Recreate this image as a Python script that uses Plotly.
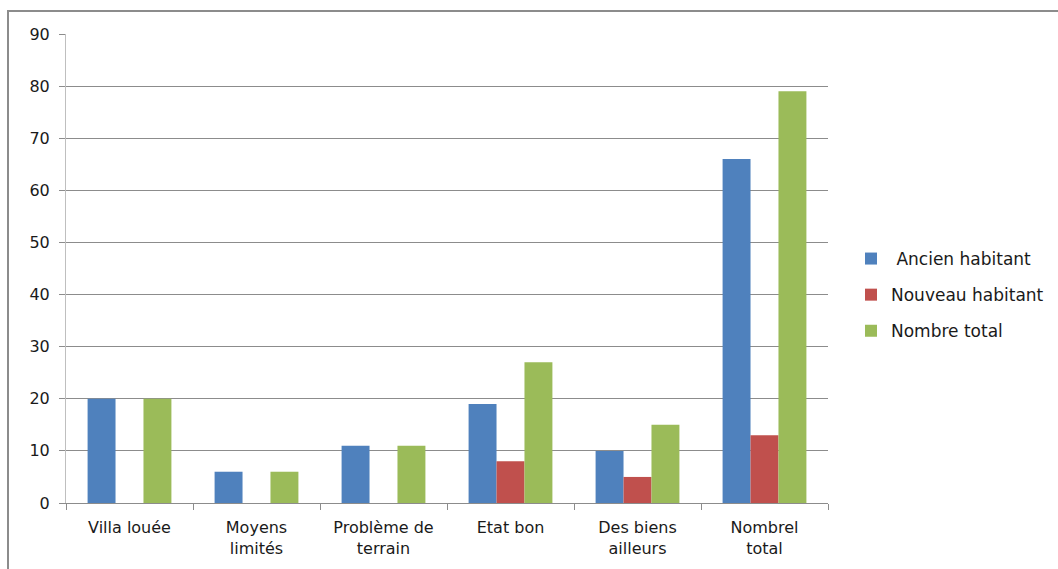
import plotly.graph_objects as go

categories = ["Villa louée", "Moyens<br>limités", "Problème de<br>terrain",
              "Etat bon", "Des biens<br>ailleurs", "Nombrel<br>total"]
ancien = [20, 6, 11, 19, 10, 66]
nouveau = [0, 0, 0, 8, 5, 13]
total = [20, 6, 11, 27, 15, 79]

series = [
    (" Ancien habitant", ancien, "#4F81BD"),
    ("Nouveau habitant", nouveau, "#C0504D"),
    ("Nombre total", total, "#9BBB59"),
]

W, H = 1058, 569
L, R, T, B = 66, 230, 34, 66
pw, ph = W - L - R, H - T - B

fig = go.Figure()
for i, (name, vals, col) in enumerate(series):
    fig.add_trace(go.Bar(
        x=categories, y=vals, name=name, marker_color=col,
        marker_line_width=0, legendgroup=str(i),
    ))

font = dict(family="DejaVu Sans", size=16, color="#1a1a1a")

fig.update_layout(
    width=W, height=H,
    margin=dict(l=L, r=R, t=T, b=B, autoexpand=False),
    paper_bgcolor="white", plot_bgcolor="white",
    barmode="group", bargap=0.34, bargroupgap=0,
    font=font,
    showlegend=True,
    legend=dict(
        x=(851 - L) / pw, y=(503 - 241) / ph, xanchor="left", yanchor="top",
        font=dict(family="DejaVu Sans", size=17, color="#1a1a1a"),
        tracegroupgap=11, itemwidth=30,
    ),
    xaxis=dict(
        type="category", showgrid=False, showline=True, linecolor="#8c8c8c",
        linewidth=1, ticks="outside", tickson="boundaries", ticklen=6,
        tickcolor="#8c8c8c", tickfont=font, ticklabelstandoff=10,
    ),
    yaxis=dict(
        range=[0, 90], dtick=10, showgrid=True, gridcolor="#8c8c8c",
        gridwidth=1, showline=True, linecolor="#bfbfbf", linewidth=1,
        ticks="outside", ticklen=6, tickcolor="#8c8c8c", tickfont=font,
        zeroline=False, ticklabelstandoff=6,
    ),
    shapes=[dict(
        type="rect", xref="paper", yref="paper",
        x0=(8 - L) / pw, x1=(1080 - L) / pw,
        y0=(503 - 590) / ph, y1=(503 - 11) / ph,
        line=dict(color="#8c8c8c", width=2), fillcolor="rgba(0,0,0,0)",
        layer="below",
    )],
)

fig.write_html("out.html")
